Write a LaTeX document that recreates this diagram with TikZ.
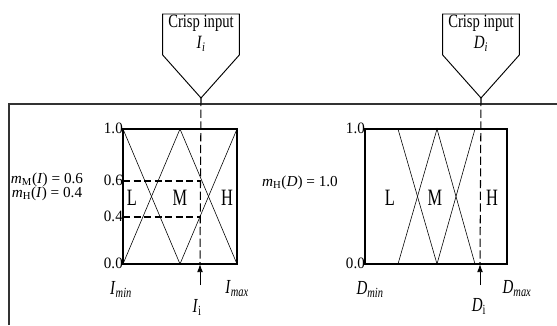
\documentclass[tikz,border=0pt]{standalone}
\usepackage{fontspec}
\setmainfont{Liberation Serif}
\usepackage{graphicx}
\usetikzlibrary{arrows.meta}
\newcommand{\sq}[2][0.75]{\scalebox{#1}[1]{#2}}
\newcommand{\vi}[2]{\textit{#1}\textsubscript{\textit{#2}}}

\tikzset{
  frame/.style={line width=1pt, black!80},
  mfbox/.style={line width=0.9pt},
  mfline/.style={line width=0.5pt},
  cutline/.style={line width=1.2pt, dash pattern=on 6pt off 3pt},
  dropline/.style={line width=0.9pt, dash pattern=on 7pt off 3pt},
  lbl/.style={inner sep=0pt, font=\fontsize{20}{22}\selectfont},
  tick/.style={inner sep=0pt, anchor=east, font=\fontsize{13.5}{15}\selectfont},
  axis/.style={inner sep=0pt, font=\fontsize{17}{19}\selectfont},
  grade/.style={inner sep=0pt, font=\fontsize{13}{15}\selectfont},
  crisp/.style={inner sep=0pt, font=\fontsize{16}{18}\selectfont}
}

\begin{document}
\begin{tikzpicture}[x=0.03cm,y=0.03cm]
\useasboundingbox (0,0) rectangle (557,325);

% frame
\draw[frame] (9,0) -- (9,221) -- (557,221);

% crisp input I
\coordinate (tipI) at (201,227);
\draw[line width=0.8pt] (tipI) -- ++(-38.3,43) -- ++(0,41) -- ++(76.6,0) -- ++(0,-41) -- cycle;
\node[crisp] (cinI) at (201,302) {\sq[0.78]{Crisp input}};
\node[crisp] (valI) at (201,281) {\sq[0.8]{\textit{I}\textsubscript{\textit{i}}}};

% crisp input D
\coordinate (tipD) at (481,227);
\draw[line width=0.8pt] (tipD) -- ++(-38.3,43) -- ++(0,41) -- ++(76.6,0) -- ++(0,-41) -- cycle;
\node[crisp] (cinD) at (481,302) {\sq[0.78]{Crisp input}};
\node[crisp] (valD) at (481,281) {\sq[0.8]{\textit{D}\textsubscript{\textit{i}}}};

% left membership functions
\draw[mfbox] (123,61) rectangle (237,196);
\draw[mfline] (123,196) -- (180,61);
\draw[mfline] (123,61) -- (180,196) -- (237,61);
\draw[mfline] (180,61) -- (237,196);
\node[lbl] (lL) at (132,127) {\sq[0.7]{L}};
\node[lbl] (lM) at (180,127) {\sq[0.7]{M}};
\node[lbl] (lH) at (227,127) {\sq[0.7]{H}};
\node[tick] (t10) at (123,197) {\sq[0.95]{1.0}};
\node[tick] (t06) at (123,145) {\sq[0.95]{0.6}};
\node[tick] (t04) at (123,109) {\sq[0.95]{0.4}};
\node[tick] (t00) at (123,62) {\sq[0.95]{0.0}};
\draw[cutline] (123,144) -- (200,144);
\draw[cutline] (123,108) -- (200,108);
\coordinate (botI) at (200,61);
\coordinate (arrI) at (200,40);
\draw[dropline] (tipI) -- (botI);
\draw[line width=0.8pt, -{Latex[length=7pt,width=5pt]}] (arrI) -- (botI);
\node[axis] (imin) at (121,36) {\sq{\vi{I}{min}}};
\node[axis] (imax) at (237,36) {\sq{\vi{I}{max}}};
\node[axis] (ii) at (197,18) {\sq{\textit{I}\textsubscript{i}}};
\node[grade] (gM) at (47,145) {\textit{m}\textsubscript{M}(\textit{I}) = 0.6};
\node[grade] (gH) at (47,131) {\textit{m}\textsubscript{H}(\textit{I}) = 0.4};

% right membership functions
\draw[mfbox] (365,61) rectangle (507,196);
\draw[mfline] (398,196) -- (437,61);
\draw[mfline] (398,61) -- (437,196) -- (475,61);
\draw[mfline] (437,61) -- (475,196);
\node[lbl] (rL) at (390,127) {\sq[0.7]{L}};
\node[lbl] (rM) at (435,127) {\sq[0.7]{M}};
\node[lbl] (rH) at (492,127) {\sq[0.7]{H}};
\node[tick] (s10) at (365,197) {\sq[0.95]{1.0}};
\node[tick] (s00) at (365,62) {\sq[0.95]{0.0}};
\draw[cutline] (365,196) -- (480,196);
\coordinate (botD) at (480,61);
\coordinate (arrD) at (480,40);
\draw[dropline] (tipD) -- (botD);
\draw[line width=0.8pt, -{Latex[length=7pt,width=5pt]}] (arrD) -- (botD);
\node[axis] (dmin) at (370,36) {\sq{\vi{D}{min}}};
\node[axis] (dmax) at (517,36) {\sq{\vi{D}{max}}};
\node[axis] (di) at (479,19) {\sq{\textit{D}\textsubscript{i}}};
\node[grade] (gD) at (300,142) {\textit{m}\textsubscript{H}(\textit{D}) = 1.0};
\end{tikzpicture}
\end{document}
